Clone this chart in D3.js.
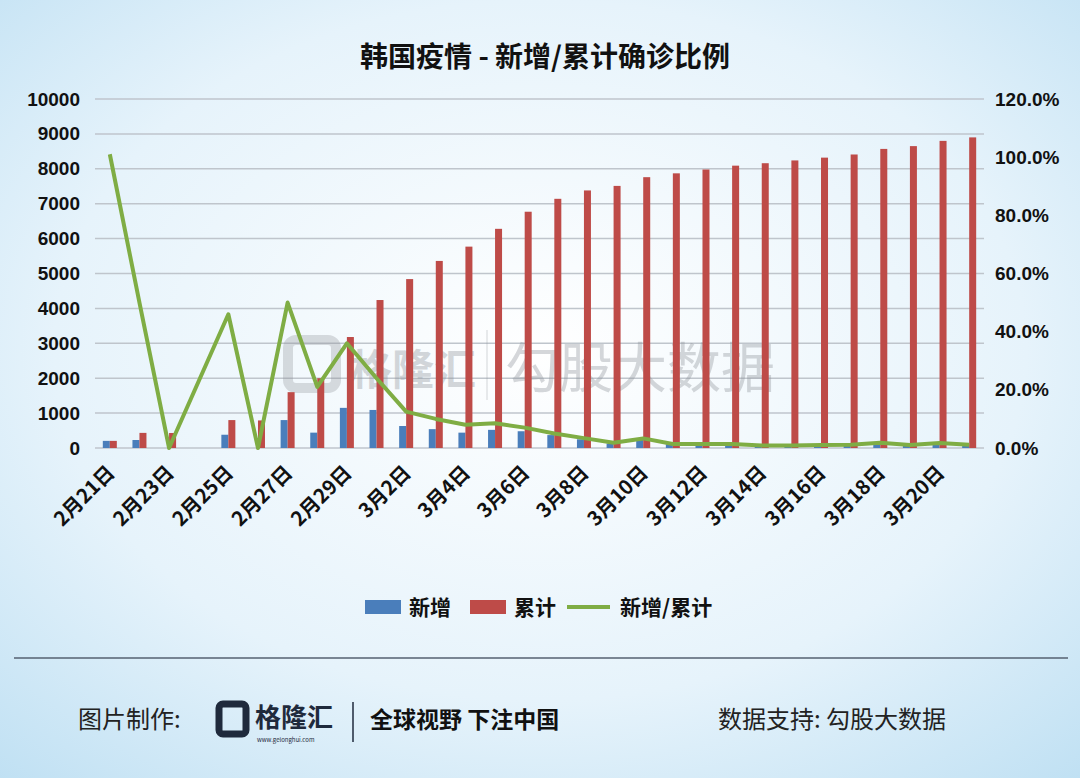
<!DOCTYPE html>
<html><head><meta charset="utf-8">
<script src="https://cdn.jsdelivr.net/npm/d3@7"></script>
<style>body{margin:0;}svg{display:block;font-family:"Noto Sans CJK SC","Noto Sans",sans-serif;}</style>
</head><body>
<svg id="c" width="1080" height="778"></svg>
<script>
const categories = ["2月21日","2月22日","2月23日","2月24日","2月25日","2月26日","2月27日","2月28日","2月29日","3月1日","3月2日","3月3日","3月4日","3月5日","3月6日","3月7日","3月8日","3月9日","3月10日","3月11日","3月12日","3月13日","3月14日","3月15日","3月16日","3月17日","3月18日","3月19日","3月20日","3月21日"];
const newCases = [204,229,0,null,380,0,800,440,1150,1090,630,540,440,520,480,370,250,130,240,110,110,110,76,74,84,93,152,87,147,98];
const cumCases = [204,433,430,null,800,790,1600,2000,3180,4240,4840,5360,5770,6280,6770,7140,7380,7510,7760,7870,7980,8090,8160,8240,8320,8410,8570,8650,8800,8900];
const ratio = [101,50,0,null,46,0,50,21,36,24,12.5,10,8,8.5,7,5,3.4,1.8,3.3,1.4,1.4,1.4,0.9,0.9,1,1.1,1.8,1,1.7,1.1];
const leftTicks = [0,1000,2000,3000,4000,5000,6000,7000,8000,9000,10000];
const rightTicks = [0,20,40,60,80,100,120];

const svg = d3.select("#c");
const defs = svg.append("defs");
const g1 = defs.append("radialGradient").attr("id","bg").attr("cx","50%").attr("cy","45%").attr("r","75%");
g1.append("stop").attr("offset","0%").attr("stop-color","#ffffff");
g1.append("stop").attr("offset","60%").attr("stop-color","#e6f3fb");
g1.append("stop").attr("offset","100%").attr("stop-color","#bfe0f3");
svg.append("rect").attr("width",1080).attr("height",778).attr("fill","url(#bg)");

const x0 = 95, x1 = 984, yTop = 99, yBot = 448;
const x = d3.scaleBand().domain(categories).range([x0,x1]);
const yL = d3.scaleLinear().domain([0,10000]).range([yBot,yTop]);
const yR = d3.scaleLinear().domain([0,120]).range([yBot,yTop]);

svg.append("text").attr("x",545).attr("y",67).attr("text-anchor","middle").attr("font-size",28).attr("font-weight","bold").attr("fill","#111").text("韩国疫情 - 新增/累计确诊比例");

svg.append("g").selectAll("line").data(leftTicks).join("line")
 .attr("x1",x0).attr("x2",x1).attr("y1",d=>yL(d)).attr("y2",d=>yL(d))
 .attr("stroke","#bfc5cc").attr("stroke-width",1.5);

// watermark
svg.append("text").attr("x",350).attr("y",385).attr("font-size",42).attr("font-weight","bold").attr("fill","#8a8f96").attr("opacity",0.35).text("格隆汇");
svg.append("rect").attr("x",288).attr("y",340).attr("width",48).attr("height",48).attr("rx",8).attr("fill","none").attr("stroke","#8a8f96").attr("stroke-width",10).attr("opacity",0.3);
svg.append("line").attr("x1",487).attr("x2",487).attr("y1",330).attr("y2",400).attr("stroke","#8a8f96").attr("opacity",0.35);
svg.append("text").attr("x",505).attr("y",388).attr("font-size",54).attr("fill","#8a8f96").attr("opacity",0.35).text("勾股大数据");

const axL = svg.append("g").attr("transform",`translate(${x0-12},0)`).call(d3.axisLeft(yL).tickValues(leftTicks).tickSize(0).tickFormat(d3.format("d")));
axL.select(".domain").remove();
axL.selectAll("text").attr("font-size",19).attr("font-weight","bold").attr("fill","#111").attr("font-family","Liberation Sans, Arial");
const axR = svg.append("g").attr("transform",`translate(${x1+8},0)`).call(d3.axisRight(yR).tickValues(rightTicks).tickSize(0).tickFormat(d=>d.toFixed(1)+"%"));
axR.select(".domain").remove();
axR.selectAll("text").attr("font-size",19).attr("font-weight","bold").attr("fill","#111").attr("font-family","Liberation Sans, Arial");

const bw = 7;
svg.append("g").selectAll("rect").data(categories.map((c,i)=>({c,v:newCases[i]})).filter(d=>d.v!=null))
 .join("rect").attr("x",d=>x(d.c)+x.bandwidth()/2-bw).attr("width",bw)
 .attr("y",d=>yL(d.v)).attr("height",d=>yBot-yL(d.v)).attr("fill","#4a7ebb");
svg.append("g").selectAll("rect").data(categories.map((c,i)=>({c,v:cumCases[i]})).filter(d=>d.v!=null))
 .join("rect").attr("x",d=>x(d.c)+x.bandwidth()/2).attr("width",bw)
 .attr("y",d=>yL(d.v)).attr("height",d=>yBot-yL(d.v)).attr("fill","#be4b48");

const pts = categories.map((c,i)=>({c,v:ratio[i]})).filter(d=>d.v!=null);
svg.append("path").datum(pts).attr("fill","none").attr("stroke","#7fad44").attr("stroke-width",4).attr("stroke-linejoin","round")
 .attr("d",d3.line().x(d=>x(d.c)+x.bandwidth()/2).y(d=>yR(d.v)));

svg.append("g").selectAll("text").data(categories.filter((c,i)=>i%2===0)).join("text")
 .attr("transform",d=>`translate(${x(d)+x.bandwidth()/2+6},${yBot+26}) rotate(-45)`)
 .attr("text-anchor","end").attr("font-size",20).attr("font-weight","bold").attr("fill","#111").text(d=>d);

const leg = [{t:"新增",c:"#4a7ebb",type:"r",x:365},{t:"累计",c:"#be4b48",type:"r",x:470},{t:"新增/累计",c:"#7fad44",type:"l",x:572}];
leg.forEach(l=>{
 if(l.type==="r") svg.append("rect").attr("x",l.x).attr("y",600).attr("width",36).attr("height",14).attr("fill",l.c);
 else svg.append("line").attr("x1",l.x-5).attr("x2",l.x+38).attr("y1",607).attr("y2",607).attr("stroke",l.c).attr("stroke-width",4);
 svg.append("text").attr("x",l.type==="r"?l.x+44:l.x+48).attr("y",615).attr("font-size",21).attr("font-weight","bold").attr("fill","#111").text(l.t);
});

svg.append("line").attr("x1",14).attr("x2",1068).attr("y1",658).attr("y2",658).attr("stroke","#556070").attr("stroke-width",1.5);
svg.append("text").attr("x",78).attr("y",728).attr("font-size",24).attr("fill","#222").text("图片制作:");
svg.append("rect").attr("x",219).attr("y",704).attr("width",27).attr("height",30).attr("rx",4).attr("fill","none").attr("stroke","#1f2a3c").attr("stroke-width",7);
svg.append("text").attr("x",255).attr("y",727).attr("font-size",26).attr("font-weight","bold").attr("fill","#1f2a3c").text("格隆汇");
svg.append("text").attr("x",257).attr("y",742).attr("font-size",6).attr("fill","#1f2a3c").text("www.gelonghui.com");
svg.append("line").attr("x1",353).attr("x2",353).attr("y1",702).attr("y2",742).attr("stroke","#1f2a3c").attr("stroke-width",1.5);
svg.append("text").attr("x",370).attr("y",728).attr("font-size",23).attr("font-weight","bold").attr("fill","#111").text("全球视野 下注中国");
svg.append("text").attr("x",718).attr("y",728).attr("font-size",24).attr("fill","#222").text("数据支持:  勾股大数据");
</script>
</body></html>
